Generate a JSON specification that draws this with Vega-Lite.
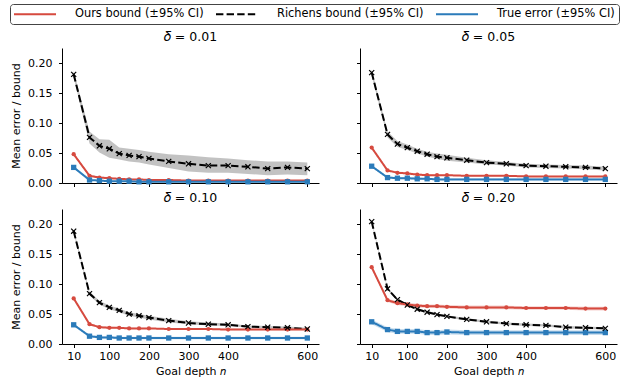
{
  "$schema": "https://vega.github.io/schema/vega-lite/v6.json",
  "padding": {"left": 9, "top": 3, "right": 5, "bottom": 5},
  "background": "white",
  "data": {"values": [
    {"d":0.01,"s":"Richens","n":10,"m":0.181,"lo":0.176,"hi":0.187},
    {"d":0.01,"s":"Richens","n":50,"m":0.076,"lo":0.066,"hi":0.086},
    {"d":0.01,"s":"Richens","n":75,"m":0.062,"lo":0.051,"hi":0.073},
    {"d":0.01,"s":"Richens","n":100,"m":0.057,"lo":0.042,"hi":0.072},
    {"d":0.01,"s":"Richens","n":125,"m":0.049,"lo":0.039,"hi":0.059},
    {"d":0.01,"s":"Richens","n":150,"m":0.046,"lo":0.036,"hi":0.057},
    {"d":0.01,"s":"Richens","n":175,"m":0.044,"lo":0.034,"hi":0.055},
    {"d":0.01,"s":"Richens","n":200,"m":0.041,"lo":0.031,"hi":0.052},
    {"d":0.01,"s":"Richens","n":250,"m":0.036,"lo":0.025,"hi":0.048},
    {"d":0.01,"s":"Richens","n":300,"m":0.032,"lo":0.019,"hi":0.046},
    {"d":0.01,"s":"Richens","n":350,"m":0.029,"lo":0.017,"hi":0.043},
    {"d":0.01,"s":"Richens","n":400,"m":0.029,"lo":0.017,"hi":0.041},
    {"d":0.01,"s":"Richens","n":450,"m":0.027,"lo":0.015,"hi":0.038},
    {"d":0.01,"s":"Richens","n":500,"m":0.024,"lo":0.013,"hi":0.036},
    {"d":0.01,"s":"Richens","n":550,"m":0.026,"lo":0.014,"hi":0.036},
    {"d":0.01,"s":"Richens","n":600,"m":0.024,"lo":0.013,"hi":0.034},
    {"d":0.01,"s":"Ours","n":10,"m":0.048,"lo":0.046,"hi":0.050},
    {"d":0.01,"s":"Ours","n":50,"m":0.012,"lo":0.010,"hi":0.014},
    {"d":0.01,"s":"Ours","n":75,"m":0.009,"lo":0.008,"hi":0.011},
    {"d":0.01,"s":"Ours","n":100,"m":0.008,"lo":0.007,"hi":0.010},
    {"d":0.01,"s":"Ours","n":125,"m":0.007,"lo":0.006,"hi":0.008},
    {"d":0.01,"s":"Ours","n":150,"m":0.006,"lo":0.005,"hi":0.007},
    {"d":0.01,"s":"Ours","n":175,"m":0.006,"lo":0.005,"hi":0.007},
    {"d":0.01,"s":"Ours","n":200,"m":0.005,"lo":0.004,"hi":0.006},
    {"d":0.01,"s":"Ours","n":250,"m":0.005,"lo":0.004,"hi":0.006},
    {"d":0.01,"s":"Ours","n":300,"m":0.004,"lo":0.003,"hi":0.005},
    {"d":0.01,"s":"Ours","n":350,"m":0.004,"lo":0.003,"hi":0.005},
    {"d":0.01,"s":"Ours","n":400,"m":0.004,"lo":0.003,"hi":0.005},
    {"d":0.01,"s":"Ours","n":450,"m":0.004,"lo":0.003,"hi":0.005},
    {"d":0.01,"s":"Ours","n":500,"m":0.004,"lo":0.003,"hi":0.005},
    {"d":0.01,"s":"Ours","n":550,"m":0.004,"lo":0.003,"hi":0.005},
    {"d":0.01,"s":"Ours","n":600,"m":0.004,"lo":0.003,"hi":0.005},
    {"d":0.01,"s":"True","n":10,"m":0.026,"lo":0.024,"hi":0.028},
    {"d":0.01,"s":"True","n":50,"m":0.005,"lo":0.004,"hi":0.006},
    {"d":0.01,"s":"True","n":75,"m":0.004,"lo":0.003,"hi":0.005},
    {"d":0.01,"s":"True","n":100,"m":0.003,"lo":0.002,"hi":0.004},
    {"d":0.01,"s":"True","n":125,"m":0.003,"lo":0.002,"hi":0.004},
    {"d":0.01,"s":"True","n":150,"m":0.003,"lo":0.002,"hi":0.004},
    {"d":0.01,"s":"True","n":175,"m":0.002,"lo":0.001,"hi":0.003},
    {"d":0.01,"s":"True","n":200,"m":0.002,"lo":0.001,"hi":0.003},
    {"d":0.01,"s":"True","n":250,"m":0.002,"lo":0.001,"hi":0.003},
    {"d":0.01,"s":"True","n":300,"m":0.002,"lo":0.001,"hi":0.003},
    {"d":0.01,"s":"True","n":350,"m":0.002,"lo":0.001,"hi":0.003},
    {"d":0.01,"s":"True","n":400,"m":0.002,"lo":0.001,"hi":0.003},
    {"d":0.01,"s":"True","n":450,"m":0.002,"lo":0.001,"hi":0.003},
    {"d":0.01,"s":"True","n":500,"m":0.002,"lo":0.001,"hi":0.003},
    {"d":0.01,"s":"True","n":550,"m":0.002,"lo":0.001,"hi":0.003},
    {"d":0.01,"s":"True","n":600,"m":0.002,"lo":0.001,"hi":0.003},

    {"d":0.05,"s":"Richens","n":10,"m":0.184,"lo":0.179,"hi":0.189},
    {"d":0.05,"s":"Richens","n":50,"m":0.081,"lo":0.076,"hi":0.086},
    {"d":0.05,"s":"Richens","n":75,"m":0.065,"lo":0.060,"hi":0.070},
    {"d":0.05,"s":"Richens","n":100,"m":0.059,"lo":0.055,"hi":0.064},
    {"d":0.05,"s":"Richens","n":125,"m":0.053,"lo":0.049,"hi":0.057},
    {"d":0.05,"s":"Richens","n":150,"m":0.048,"lo":0.044,"hi":0.052},
    {"d":0.05,"s":"Richens","n":175,"m":0.044,"lo":0.040,"hi":0.049},
    {"d":0.05,"s":"Richens","n":200,"m":0.042,"lo":0.037,"hi":0.047},
    {"d":0.05,"s":"Richens","n":250,"m":0.038,"lo":0.034,"hi":0.042},
    {"d":0.05,"s":"Richens","n":300,"m":0.034,"lo":0.031,"hi":0.038},
    {"d":0.05,"s":"Richens","n":350,"m":0.032,"lo":0.029,"hi":0.035},
    {"d":0.05,"s":"Richens","n":400,"m":0.029,"lo":0.026,"hi":0.032},
    {"d":0.05,"s":"Richens","n":450,"m":0.028,"lo":0.025,"hi":0.031},
    {"d":0.05,"s":"Richens","n":500,"m":0.027,"lo":0.024,"hi":0.030},
    {"d":0.05,"s":"Richens","n":550,"m":0.026,"lo":0.023,"hi":0.029},
    {"d":0.05,"s":"Richens","n":600,"m":0.024,"lo":0.021,"hi":0.027},
    {"d":0.05,"s":"Ours","n":10,"m":0.059,"lo":0.057,"hi":0.061},
    {"d":0.05,"s":"Ours","n":50,"m":0.021,"lo":0.019,"hi":0.023},
    {"d":0.05,"s":"Ours","n":75,"m":0.017,"lo":0.016,"hi":0.019},
    {"d":0.05,"s":"Ours","n":100,"m":0.016,"lo":0.015,"hi":0.018},
    {"d":0.05,"s":"Ours","n":125,"m":0.014,"lo":0.013,"hi":0.016},
    {"d":0.05,"s":"Ours","n":150,"m":0.013,"lo":0.012,"hi":0.015},
    {"d":0.05,"s":"Ours","n":175,"m":0.013,"lo":0.012,"hi":0.014},
    {"d":0.05,"s":"Ours","n":200,"m":0.013,"lo":0.012,"hi":0.014},
    {"d":0.05,"s":"Ours","n":250,"m":0.012,"lo":0.011,"hi":0.013},
    {"d":0.05,"s":"Ours","n":300,"m":0.012,"lo":0.011,"hi":0.013},
    {"d":0.05,"s":"Ours","n":350,"m":0.012,"lo":0.011,"hi":0.013},
    {"d":0.05,"s":"Ours","n":400,"m":0.011,"lo":0.010,"hi":0.012},
    {"d":0.05,"s":"Ours","n":450,"m":0.011,"lo":0.010,"hi":0.012},
    {"d":0.05,"s":"Ours","n":500,"m":0.011,"lo":0.010,"hi":0.012},
    {"d":0.05,"s":"Ours","n":550,"m":0.011,"lo":0.010,"hi":0.012},
    {"d":0.05,"s":"Ours","n":600,"m":0.011,"lo":0.010,"hi":0.012},
    {"d":0.05,"s":"True","n":10,"m":0.028,"lo":0.026,"hi":0.030},
    {"d":0.05,"s":"True","n":50,"m":0.009,"lo":0.008,"hi":0.011},
    {"d":0.05,"s":"True","n":75,"m":0.008,"lo":0.007,"hi":0.010},
    {"d":0.05,"s":"True","n":100,"m":0.008,"lo":0.007,"hi":0.010},
    {"d":0.05,"s":"True","n":125,"m":0.007,"lo":0.006,"hi":0.009},
    {"d":0.05,"s":"True","n":150,"m":0.007,"lo":0.006,"hi":0.008},
    {"d":0.05,"s":"True","n":175,"m":0.006,"lo":0.005,"hi":0.008},
    {"d":0.05,"s":"True","n":200,"m":0.006,"lo":0.005,"hi":0.008},
    {"d":0.05,"s":"True","n":250,"m":0.006,"lo":0.005,"hi":0.008},
    {"d":0.05,"s":"True","n":300,"m":0.006,"lo":0.005,"hi":0.008},
    {"d":0.05,"s":"True","n":350,"m":0.006,"lo":0.005,"hi":0.008},
    {"d":0.05,"s":"True","n":400,"m":0.006,"lo":0.005,"hi":0.008},
    {"d":0.05,"s":"True","n":450,"m":0.006,"lo":0.005,"hi":0.008},
    {"d":0.05,"s":"True","n":500,"m":0.006,"lo":0.005,"hi":0.008},
    {"d":0.05,"s":"True","n":550,"m":0.006,"lo":0.005,"hi":0.008},
    {"d":0.05,"s":"True","n":600,"m":0.006,"lo":0.005,"hi":0.008},

    {"d":0.1,"s":"Richens","n":10,"m":0.188,"lo":0.185,"hi":0.191},
    {"d":0.1,"s":"Richens","n":50,"m":0.084,"lo":0.081,"hi":0.087},
    {"d":0.1,"s":"Richens","n":75,"m":0.069,"lo":0.066,"hi":0.072},
    {"d":0.1,"s":"Richens","n":100,"m":0.061,"lo":0.058,"hi":0.064},
    {"d":0.1,"s":"Richens","n":125,"m":0.056,"lo":0.053,"hi":0.059},
    {"d":0.1,"s":"Richens","n":150,"m":0.050,"lo":0.047,"hi":0.053},
    {"d":0.1,"s":"Richens","n":175,"m":0.047,"lo":0.044,"hi":0.050},
    {"d":0.1,"s":"Richens","n":200,"m":0.044,"lo":0.041,"hi":0.047},
    {"d":0.1,"s":"Richens","n":250,"m":0.039,"lo":0.036,"hi":0.042},
    {"d":0.1,"s":"Richens","n":300,"m":0.035,"lo":0.033,"hi":0.038},
    {"d":0.1,"s":"Richens","n":350,"m":0.033,"lo":0.031,"hi":0.036},
    {"d":0.1,"s":"Richens","n":400,"m":0.032,"lo":0.030,"hi":0.034},
    {"d":0.1,"s":"Richens","n":450,"m":0.029,"lo":0.027,"hi":0.031},
    {"d":0.1,"s":"Richens","n":500,"m":0.028,"lo":0.026,"hi":0.030},
    {"d":0.1,"s":"Richens","n":550,"m":0.027,"lo":0.025,"hi":0.029},
    {"d":0.1,"s":"Richens","n":600,"m":0.025,"lo":0.023,"hi":0.027},
    {"d":0.1,"s":"Ours","n":10,"m":0.076,"lo":0.074,"hi":0.078},
    {"d":0.1,"s":"Ours","n":50,"m":0.033,"lo":0.031,"hi":0.035},
    {"d":0.1,"s":"Ours","n":75,"m":0.028,"lo":0.027,"hi":0.030},
    {"d":0.1,"s":"Ours","n":100,"m":0.027,"lo":0.026,"hi":0.029},
    {"d":0.1,"s":"Ours","n":125,"m":0.027,"lo":0.026,"hi":0.028},
    {"d":0.1,"s":"Ours","n":150,"m":0.026,"lo":0.025,"hi":0.028},
    {"d":0.1,"s":"Ours","n":175,"m":0.026,"lo":0.025,"hi":0.027},
    {"d":0.1,"s":"Ours","n":200,"m":0.026,"lo":0.025,"hi":0.027},
    {"d":0.1,"s":"Ours","n":250,"m":0.025,"lo":0.024,"hi":0.026},
    {"d":0.1,"s":"Ours","n":300,"m":0.025,"lo":0.024,"hi":0.026},
    {"d":0.1,"s":"Ours","n":350,"m":0.025,"lo":0.024,"hi":0.026},
    {"d":0.1,"s":"Ours","n":400,"m":0.024,"lo":0.023,"hi":0.026},
    {"d":0.1,"s":"Ours","n":450,"m":0.024,"lo":0.023,"hi":0.026},
    {"d":0.1,"s":"Ours","n":500,"m":0.024,"lo":0.023,"hi":0.026},
    {"d":0.1,"s":"Ours","n":550,"m":0.024,"lo":0.023,"hi":0.026},
    {"d":0.1,"s":"Ours","n":600,"m":0.024,"lo":0.023,"hi":0.026},
    {"d":0.1,"s":"True","n":10,"m":0.032,"lo":0.030,"hi":0.034},
    {"d":0.1,"s":"True","n":50,"m":0.013,"lo":0.011,"hi":0.015},
    {"d":0.1,"s":"True","n":75,"m":0.011,"lo":0.009,"hi":0.013},
    {"d":0.1,"s":"True","n":100,"m":0.011,"lo":0.009,"hi":0.013},
    {"d":0.1,"s":"True","n":125,"m":0.010,"lo":0.008,"hi":0.012},
    {"d":0.1,"s":"True","n":150,"m":0.010,"lo":0.008,"hi":0.012},
    {"d":0.1,"s":"True","n":175,"m":0.010,"lo":0.008,"hi":0.012},
    {"d":0.1,"s":"True","n":200,"m":0.010,"lo":0.008,"hi":0.012},
    {"d":0.1,"s":"True","n":250,"m":0.010,"lo":0.008,"hi":0.012},
    {"d":0.1,"s":"True","n":300,"m":0.010,"lo":0.008,"hi":0.012},
    {"d":0.1,"s":"True","n":350,"m":0.010,"lo":0.008,"hi":0.012},
    {"d":0.1,"s":"True","n":400,"m":0.010,"lo":0.008,"hi":0.012},
    {"d":0.1,"s":"True","n":450,"m":0.010,"lo":0.008,"hi":0.012},
    {"d":0.1,"s":"True","n":500,"m":0.010,"lo":0.008,"hi":0.012},
    {"d":0.1,"s":"True","n":550,"m":0.010,"lo":0.008,"hi":0.012},
    {"d":0.1,"s":"True","n":600,"m":0.010,"lo":0.008,"hi":0.012},

    {"d":0.2,"s":"Richens","n":10,"m":0.204,"lo":0.202,"hi":0.206},
    {"d":0.2,"s":"Richens","n":50,"m":0.092,"lo":0.090,"hi":0.094},
    {"d":0.2,"s":"Richens","n":75,"m":0.074,"lo":0.072,"hi":0.076},
    {"d":0.2,"s":"Richens","n":100,"m":0.065,"lo":0.063,"hi":0.067},
    {"d":0.2,"s":"Richens","n":125,"m":0.058,"lo":0.056,"hi":0.060},
    {"d":0.2,"s":"Richens","n":150,"m":0.053,"lo":0.051,"hi":0.055},
    {"d":0.2,"s":"Richens","n":175,"m":0.049,"lo":0.047,"hi":0.051},
    {"d":0.2,"s":"Richens","n":200,"m":0.046,"lo":0.044,"hi":0.048},
    {"d":0.2,"s":"Richens","n":250,"m":0.041,"lo":0.039,"hi":0.043},
    {"d":0.2,"s":"Richens","n":300,"m":0.037,"lo":0.035,"hi":0.039},
    {"d":0.2,"s":"Richens","n":350,"m":0.034,"lo":0.032,"hi":0.036},
    {"d":0.2,"s":"Richens","n":400,"m":0.032,"lo":0.030,"hi":0.034},
    {"d":0.2,"s":"Richens","n":450,"m":0.031,"lo":0.029,"hi":0.033},
    {"d":0.2,"s":"Richens","n":500,"m":0.028,"lo":0.026,"hi":0.030},
    {"d":0.2,"s":"Richens","n":550,"m":0.027,"lo":0.025,"hi":0.029},
    {"d":0.2,"s":"Richens","n":600,"m":0.026,"lo":0.024,"hi":0.028},
    {"d":0.2,"s":"Ours","n":10,"m":0.128,"lo":0.125,"hi":0.131},
    {"d":0.2,"s":"Ours","n":50,"m":0.073,"lo":0.070,"hi":0.076},
    {"d":0.2,"s":"Ours","n":75,"m":0.068,"lo":0.065,"hi":0.071},
    {"d":0.2,"s":"Ours","n":100,"m":0.066,"lo":0.063,"hi":0.069},
    {"d":0.2,"s":"Ours","n":125,"m":0.064,"lo":0.061,"hi":0.067},
    {"d":0.2,"s":"Ours","n":150,"m":0.063,"lo":0.060,"hi":0.066},
    {"d":0.2,"s":"Ours","n":175,"m":0.063,"lo":0.060,"hi":0.066},
    {"d":0.2,"s":"Ours","n":200,"m":0.062,"lo":0.059,"hi":0.065},
    {"d":0.2,"s":"Ours","n":250,"m":0.061,"lo":0.058,"hi":0.064},
    {"d":0.2,"s":"Ours","n":300,"m":0.061,"lo":0.058,"hi":0.064},
    {"d":0.2,"s":"Ours","n":350,"m":0.061,"lo":0.058,"hi":0.064},
    {"d":0.2,"s":"Ours","n":400,"m":0.060,"lo":0.057,"hi":0.063},
    {"d":0.2,"s":"Ours","n":450,"m":0.060,"lo":0.057,"hi":0.063},
    {"d":0.2,"s":"Ours","n":500,"m":0.060,"lo":0.057,"hi":0.063},
    {"d":0.2,"s":"Ours","n":550,"m":0.059,"lo":0.056,"hi":0.062},
    {"d":0.2,"s":"Ours","n":600,"m":0.059,"lo":0.056,"hi":0.062},
    {"d":0.2,"s":"True","n":10,"m":0.037,"lo":0.033,"hi":0.041},
    {"d":0.2,"s":"True","n":50,"m":0.024,"lo":0.020,"hi":0.028},
    {"d":0.2,"s":"True","n":75,"m":0.021,"lo":0.017,"hi":0.025},
    {"d":0.2,"s":"True","n":100,"m":0.021,"lo":0.017,"hi":0.025},
    {"d":0.2,"s":"True","n":125,"m":0.021,"lo":0.017,"hi":0.025},
    {"d":0.2,"s":"True","n":150,"m":0.019,"lo":0.015,"hi":0.023},
    {"d":0.2,"s":"True","n":175,"m":0.019,"lo":0.015,"hi":0.023},
    {"d":0.2,"s":"True","n":200,"m":0.020,"lo":0.016,"hi":0.024},
    {"d":0.2,"s":"True","n":250,"m":0.019,"lo":0.015,"hi":0.023},
    {"d":0.2,"s":"True","n":300,"m":0.019,"lo":0.015,"hi":0.023},
    {"d":0.2,"s":"True","n":350,"m":0.019,"lo":0.015,"hi":0.023},
    {"d":0.2,"s":"True","n":400,"m":0.019,"lo":0.015,"hi":0.023},
    {"d":0.2,"s":"True","n":450,"m":0.019,"lo":0.015,"hi":0.023},
    {"d":0.2,"s":"True","n":500,"m":0.019,"lo":0.015,"hi":0.023},
    {"d":0.2,"s":"True","n":550,"m":0.019,"lo":0.015,"hi":0.023},
    {"d":0.2,"s":"True","n":600,"m":0.019,"lo":0.015,"hi":0.023}
  ]},
  "columns": 2,
  "align": "each",
  "spacing": {"row": 3, "column": 37},
  "resolve": {"scale": {"color": "shared", "strokeDash": "shared", "x": "shared", "y": "shared"}},
  "concat": [
    {
      "title": {"text": "𝛿 = 0.01"},
      "width": 257, "height": 135,
      "transform": [{"filter": "datum.d == 0.01"}],
      "encoding": {
        "x": {"field": "n", "type": "quantitative", "scale": {"domain": [-19.5, 629.5], "nice": false, "zero": false}, "axis": {"values": [10, 100, 200, 300, 400, 600], "labels": false, "title": null}},
        "y": {"field": "m", "type": "quantitative", "scale": {"domain": [0, 0.225], "nice": false}, "axis": {"values": [0, 0.05, 0.1, 0.15, 0.2], "format": ".2f", "title": "Mean error / bound"}}
      },
      "layer": [
        {"transform": [{"filter": "datum.s == 'Richens'"}], "mark": {"type": "area", "color": "#000000", "opacity": 0.24}, "encoding": {"y": {"field": "lo", "type": "quantitative", "axis": {"values": [0, 0.05, 0.1, 0.15, 0.2], "format": ".2f", "title": "Mean error / bound"}}, "y2": {"field": "hi"}}},
        {"transform": [{"filter": "datum.s == 'Ours'"}], "mark": {"type": "area", "color": "#d64a3f", "opacity": 0.25}, "encoding": {"y": {"field": "lo", "type": "quantitative", "axis": {"values": [0, 0.05, 0.1, 0.15, 0.2], "format": ".2f", "title": "Mean error / bound"}}, "y2": {"field": "hi"}}},
        {"transform": [{"filter": "datum.s == 'True'"}], "mark": {"type": "area", "color": "#2b7bba", "opacity": 0.25}, "encoding": {"y": {"field": "lo", "type": "quantitative", "axis": {"values": [0, 0.05, 0.1, 0.15, 0.2], "format": ".2f", "title": "Mean error / bound"}}, "y2": {"field": "hi"}}},
        {"mark": {"type": "line", "strokeWidth": 2}, "encoding": {"color": {"field": "s", "type": "nominal", "scale": {"domain": ["Ours", "Richens", "True"], "range": ["#d64a3f", "#000000", "#2b7bba"]}, "legend": {"labelExpr": "datum.label == 'Ours' ? 'Ours bound (±95% CI)' : datum.label == 'Richens' ? 'Richens bound (±95% CI)' : 'True error (±95% CI)'"}}, "strokeDash": {"field": "s", "type": "nominal", "scale": {"domain": ["Ours", "Richens", "True"], "range": [[1, 0], [7.4, 3.2], [1, 0]]}, "legend": {"labelExpr": "datum.label == 'Ours' ? 'Ours bound (±95% CI)' : datum.label == 'Richens' ? 'Richens bound (±95% CI)' : 'True error (±95% CI)'"}}}},
        {"transform": [{"filter": "datum.s == 'Ours'"}], "mark": {"type": "point", "filled": true, "shape": "circle", "size": 18, "color": "#d64a3f", "opacity": 1}},
        {"transform": [{"filter": "datum.s == 'True'"}], "mark": {"type": "point", "filled": true, "shape": "square", "size": 28, "color": "#2b7bba", "opacity": 1}},
        {"transform": [{"filter": "datum.s == 'Richens'"}], "mark": {"type": "point", "filled": false, "shape": "M-1,-1L1,1M-1,1L1,-1", "color": "black", "size": 26, "strokeWidth": 1.2, "opacity": 1}}
      ]
    },
    {
      "title": {"text": "𝛿 = 0.05"},
      "width": 257, "height": 135,
      "transform": [{"filter": "datum.d == 0.05"}],
      "encoding": {
        "x": {"field": "n", "type": "quantitative", "scale": {"domain": [-19.5, 629.5], "nice": false, "zero": false}, "axis": {"values": [10, 100, 200, 300, 400, 600], "labels": false, "title": null}},
        "y": {"field": "m", "type": "quantitative", "scale": {"domain": [0, 0.225], "nice": false}, "axis": {"values": [0, 0.05, 0.1, 0.15, 0.2], "labels": false, "title": null}}
      },
      "layer": [
        {"transform": [{"filter": "datum.s == 'Richens'"}], "mark": {"type": "area", "color": "#000000", "opacity": 0.24}, "encoding": {"y": {"field": "lo", "type": "quantitative", "axis": {"values": [0, 0.05, 0.1, 0.15, 0.2], "labels": false, "title": null}}, "y2": {"field": "hi"}}},
        {"transform": [{"filter": "datum.s == 'Ours'"}], "mark": {"type": "area", "color": "#d64a3f", "opacity": 0.25}, "encoding": {"y": {"field": "lo", "type": "quantitative", "axis": {"values": [0, 0.05, 0.1, 0.15, 0.2], "labels": false, "title": null}}, "y2": {"field": "hi"}}},
        {"transform": [{"filter": "datum.s == 'True'"}], "mark": {"type": "area", "color": "#2b7bba", "opacity": 0.25}, "encoding": {"y": {"field": "lo", "type": "quantitative", "axis": {"values": [0, 0.05, 0.1, 0.15, 0.2], "labels": false, "title": null}}, "y2": {"field": "hi"}}},
        {"mark": {"type": "line", "strokeWidth": 2}, "encoding": {"color": {"field": "s", "type": "nominal", "scale": {"domain": ["Ours", "Richens", "True"], "range": ["#d64a3f", "#000000", "#2b7bba"]}, "legend": {"labelExpr": "datum.label == 'Ours' ? 'Ours bound (±95% CI)' : datum.label == 'Richens' ? 'Richens bound (±95% CI)' : 'True error (±95% CI)'"}}, "strokeDash": {"field": "s", "type": "nominal", "scale": {"domain": ["Ours", "Richens", "True"], "range": [[1, 0], [7.4, 3.2], [1, 0]]}, "legend": {"labelExpr": "datum.label == 'Ours' ? 'Ours bound (±95% CI)' : datum.label == 'Richens' ? 'Richens bound (±95% CI)' : 'True error (±95% CI)'"}}}},
        {"transform": [{"filter": "datum.s == 'Ours'"}], "mark": {"type": "point", "filled": true, "shape": "circle", "size": 18, "color": "#d64a3f", "opacity": 1}},
        {"transform": [{"filter": "datum.s == 'True'"}], "mark": {"type": "point", "filled": true, "shape": "square", "size": 28, "color": "#2b7bba", "opacity": 1}},
        {"transform": [{"filter": "datum.s == 'Richens'"}], "mark": {"type": "point", "filled": false, "shape": "M-1,-1L1,1M-1,1L1,-1", "color": "black", "size": 26, "strokeWidth": 1.2, "opacity": 1}}
      ]
    },
    {
      "title": {"text": "𝛿 = 0.10"},
      "width": 257, "height": 135,
      "transform": [{"filter": "datum.d == 0.1"}],
      "encoding": {
        "x": {"field": "n", "type": "quantitative", "scale": {"domain": [-19.5, 629.5], "nice": false, "zero": false}, "axis": {"values": [10, 100, 200, 300, 400, 600], "title": "Goal depth 𝑛"}},
        "y": {"field": "m", "type": "quantitative", "scale": {"domain": [0, 0.225], "nice": false}, "axis": {"values": [0, 0.05, 0.1, 0.15, 0.2], "format": ".2f", "title": "Mean error / bound"}}
      },
      "layer": [
        {"transform": [{"filter": "datum.s == 'Richens'"}], "mark": {"type": "area", "color": "#000000", "opacity": 0.24}, "encoding": {"y": {"field": "lo", "type": "quantitative", "axis": {"values": [0, 0.05, 0.1, 0.15, 0.2], "format": ".2f", "title": "Mean error / bound"}}, "y2": {"field": "hi"}}},
        {"transform": [{"filter": "datum.s == 'Ours'"}], "mark": {"type": "area", "color": "#d64a3f", "opacity": 0.25}, "encoding": {"y": {"field": "lo", "type": "quantitative", "axis": {"values": [0, 0.05, 0.1, 0.15, 0.2], "format": ".2f", "title": "Mean error / bound"}}, "y2": {"field": "hi"}}},
        {"transform": [{"filter": "datum.s == 'True'"}], "mark": {"type": "area", "color": "#2b7bba", "opacity": 0.25}, "encoding": {"y": {"field": "lo", "type": "quantitative", "axis": {"values": [0, 0.05, 0.1, 0.15, 0.2], "format": ".2f", "title": "Mean error / bound"}}, "y2": {"field": "hi"}}},
        {"mark": {"type": "line", "strokeWidth": 2}, "encoding": {"color": {"field": "s", "type": "nominal", "scale": {"domain": ["Ours", "Richens", "True"], "range": ["#d64a3f", "#000000", "#2b7bba"]}, "legend": {"labelExpr": "datum.label == 'Ours' ? 'Ours bound (±95% CI)' : datum.label == 'Richens' ? 'Richens bound (±95% CI)' : 'True error (±95% CI)'"}}, "strokeDash": {"field": "s", "type": "nominal", "scale": {"domain": ["Ours", "Richens", "True"], "range": [[1, 0], [7.4, 3.2], [1, 0]]}, "legend": {"labelExpr": "datum.label == 'Ours' ? 'Ours bound (±95% CI)' : datum.label == 'Richens' ? 'Richens bound (±95% CI)' : 'True error (±95% CI)'"}}}},
        {"transform": [{"filter": "datum.s == 'Ours'"}], "mark": {"type": "point", "filled": true, "shape": "circle", "size": 18, "color": "#d64a3f", "opacity": 1}},
        {"transform": [{"filter": "datum.s == 'True'"}], "mark": {"type": "point", "filled": true, "shape": "square", "size": 28, "color": "#2b7bba", "opacity": 1}},
        {"transform": [{"filter": "datum.s == 'Richens'"}], "mark": {"type": "point", "filled": false, "shape": "M-1,-1L1,1M-1,1L1,-1", "color": "black", "size": 26, "strokeWidth": 1.2, "opacity": 1}}
      ]
    },
    {
      "title": {"text": "𝛿 = 0.20"},
      "width": 257, "height": 135,
      "transform": [{"filter": "datum.d == 0.2"}],
      "encoding": {
        "x": {"field": "n", "type": "quantitative", "scale": {"domain": [-19.5, 629.5], "nice": false, "zero": false}, "axis": {"values": [10, 100, 200, 300, 400, 600], "title": "Goal depth 𝑛"}},
        "y": {"field": "m", "type": "quantitative", "scale": {"domain": [0, 0.225], "nice": false}, "axis": {"values": [0, 0.05, 0.1, 0.15, 0.2], "labels": false, "title": null}}
      },
      "layer": [
        {"transform": [{"filter": "datum.s == 'Richens'"}], "mark": {"type": "area", "color": "#000000", "opacity": 0.24}, "encoding": {"y": {"field": "lo", "type": "quantitative", "axis": {"values": [0, 0.05, 0.1, 0.15, 0.2], "labels": false, "title": null}}, "y2": {"field": "hi"}}},
        {"transform": [{"filter": "datum.s == 'Ours'"}], "mark": {"type": "area", "color": "#d64a3f", "opacity": 0.25}, "encoding": {"y": {"field": "lo", "type": "quantitative", "axis": {"values": [0, 0.05, 0.1, 0.15, 0.2], "labels": false, "title": null}}, "y2": {"field": "hi"}}},
        {"transform": [{"filter": "datum.s == 'True'"}], "mark": {"type": "area", "color": "#2b7bba", "opacity": 0.25}, "encoding": {"y": {"field": "lo", "type": "quantitative", "axis": {"values": [0, 0.05, 0.1, 0.15, 0.2], "labels": false, "title": null}}, "y2": {"field": "hi"}}},
        {"mark": {"type": "line", "strokeWidth": 2}, "encoding": {"color": {"field": "s", "type": "nominal", "scale": {"domain": ["Ours", "Richens", "True"], "range": ["#d64a3f", "#000000", "#2b7bba"]}, "legend": {"labelExpr": "datum.label == 'Ours' ? 'Ours bound (±95% CI)' : datum.label == 'Richens' ? 'Richens bound (±95% CI)' : 'True error (±95% CI)'"}}, "strokeDash": {"field": "s", "type": "nominal", "scale": {"domain": ["Ours", "Richens", "True"], "range": [[1, 0], [7.4, 3.2], [1, 0]]}, "legend": {"labelExpr": "datum.label == 'Ours' ? 'Ours bound (±95% CI)' : datum.label == 'Richens' ? 'Richens bound (±95% CI)' : 'True error (±95% CI)'"}}}},
        {"transform": [{"filter": "datum.s == 'Ours'"}], "mark": {"type": "point", "filled": true, "shape": "circle", "size": 18, "color": "#d64a3f", "opacity": 1}},
        {"transform": [{"filter": "datum.s == 'True'"}], "mark": {"type": "point", "filled": true, "shape": "square", "size": 28, "color": "#2b7bba", "opacity": 1}},
        {"transform": [{"filter": "datum.s == 'Richens'"}], "mark": {"type": "point", "filled": false, "shape": "M-1,-1L1,1M-1,1L1,-1", "color": "black", "size": 26, "strokeWidth": 1.2, "opacity": 1}}
      ]
    }
  ],
  "config": {
    "view": {"stroke": null},
    "font": "DejaVu Sans",
    "axis": {"grid": false, "domainColor": "black", "tickColor": "black", "labelColor": "black", "titleColor": "black", "labelFont": "DejaVu Sans", "titleFont": "DejaVu Sans", "labelFontSize": 11, "titleFontSize": 11, "titleFontWeight": "normal", "tickSize": 3.5, "labelPadding": 3, "domainWidth": 1, "tickWidth": 1, "titlePadding": 4},
    "axisY": {"labelPadding": 6.5, "titlePadding": 6},
    "title": {"font": "DejaVu Sans", "fontSize": 12.5, "fontWeight": "normal", "color": "black", "offset": 5, "anchor": "middle"},
    "legend": {
      "orient": "none",
      "legendX": -52,
      "legendY": -44,
      "direction": "horizontal",
      "title": null,
      "labelFont": "DejaVu Sans",
      "labelFontSize": 11.4,
      "labelColor": "black",
      "symbolType": "M-4.2,0H4.2",
      "symbolSize": 100,
      "symbolStrokeWidth": 2,
      "symbolOffset": 15,
      "labelOffset": 34,
      "columnPadding": 8,
      "strokeColor": "#444",
      "cornerRadius": 3,
      "padding": 4,
      "fillColor": "white"
    }
  }
}
